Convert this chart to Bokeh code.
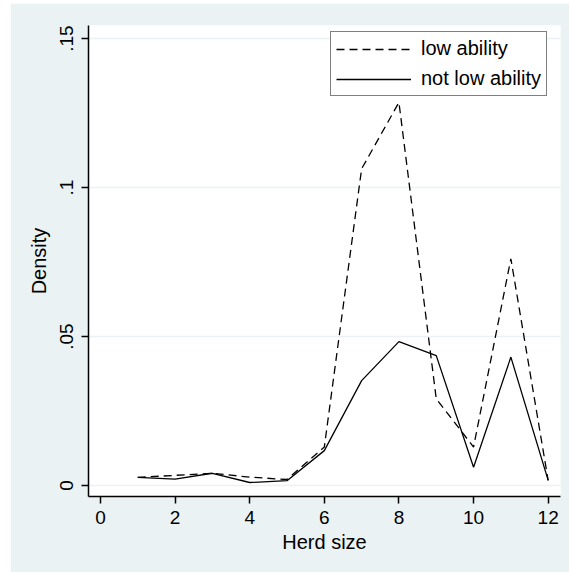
from bokeh.plotting import figure
from bokeh.models import Range1d, FixedTicker, CustomJSTickFormatter, Legend, LegendItem
from bokeh.embed import file_html
from bokeh.resources import INLINE

# Density of herd size by ability group
herd_size = [1, 2, 3, 4, 5, 6, 7, 8, 9, 10, 11, 12]
low_ability = [0.0027, 0.0034, 0.0041, 0.0028, 0.0020, 0.0129, 0.1063, 0.1286, 0.0291, 0.0129, 0.0761, 0.0017]
not_low_ability = [0.0027, 0.0021, 0.0041, 0.0010, 0.0016, 0.0117, 0.0352, 0.0483, 0.0436, 0.0061, 0.0431, 0.0017]

x_ticks = [0, 2, 4, 6, 8, 10, 12]
y_ticks = [0, 0.05, 0.1, 0.15]

FONT = "Liberation Sans"
BG = "#EAF2F3"

p = figure(width=559, height=569, output_backend="svg", toolbar_location=None,
           x_range=Range1d(-0.32, 12.33), y_range=Range1d(-0.0037, 0.1544),
           min_border_left=78, min_border_right=9, min_border_top=22, min_border_bottom=76)
p.margin = (3, 0, 0, 10)
p.background_fill_color = "white"
p.border_fill_color = BG
p.outline_line_color = None

# grid: horizontal only
p.xgrid.grid_line_color = None
p.ygrid.grid_line_color = BG
p.ygrid.grid_line_width = 1.5

for ax in (p.xaxis[0], p.yaxis[0]):
    ax.axis_line_color = "black"
    ax.axis_line_width = 1.5
    ax.major_tick_line_color = "black"
    ax.major_tick_line_width = 1.5
    ax.major_tick_out = 7
    ax.major_tick_in = 0
    ax.minor_tick_line_color = None
    ax.major_label_text_font = FONT
    ax.major_label_text_font_size = "19px"
    ax.major_label_text_color = "black"
    ax.axis_label_text_font = FONT
    ax.axis_label_text_font_size = "20px"
    ax.axis_label_text_font_style = "normal"
    ax.axis_label_text_color = "black"

p.xaxis.ticker = FixedTicker(ticks=x_ticks)
p.xaxis.axis_label = "Herd size"
p.xaxis.major_label_standoff = 7
p.xaxis.axis_label_standoff = 4

p.yaxis.ticker = FixedTicker(ticks=y_ticks)
p.yaxis.formatter = CustomJSTickFormatter(code="""
if (tick == 0) return "0";
var s = tick.toFixed(2).replace(/0+$/, "");
return s.replace(/^0/, "");
""")
p.yaxis.major_label_orientation = "vertical"
p.yaxis.axis_label = "Density"
p.yaxis.major_label_standoff = 8
p.yaxis.axis_label_standoff = 8

r_low = p.line(herd_size, low_ability, line_color="black", line_width=1.3, line_dash="8 5")
r_not = p.line(herd_size, not_low_ability, line_color="black", line_width=1.3)

legend = Legend(items=[LegendItem(label="low ability", renderers=[r_low]),
                       LegendItem(label="not low ability", renderers=[r_not])],
                location=(242, 400))
legend.border_line_color = "black"
legend.border_line_width = 1.5
legend.background_fill_color = "white"
legend.background_fill_alpha = 1
legend.label_text_font = FONT
legend.label_text_font_size = "20px"
legend.label_text_color = "black"
legend.glyph_width = 75
legend.glyph_height = 20
legend.label_height = 20
legend.label_standoff = 10
legend.spacing = 7
legend.padding = 5
legend.margin = 0
p.add_layout(legend, "center")

open("out.html", "w").write(file_html(p, INLINE))
